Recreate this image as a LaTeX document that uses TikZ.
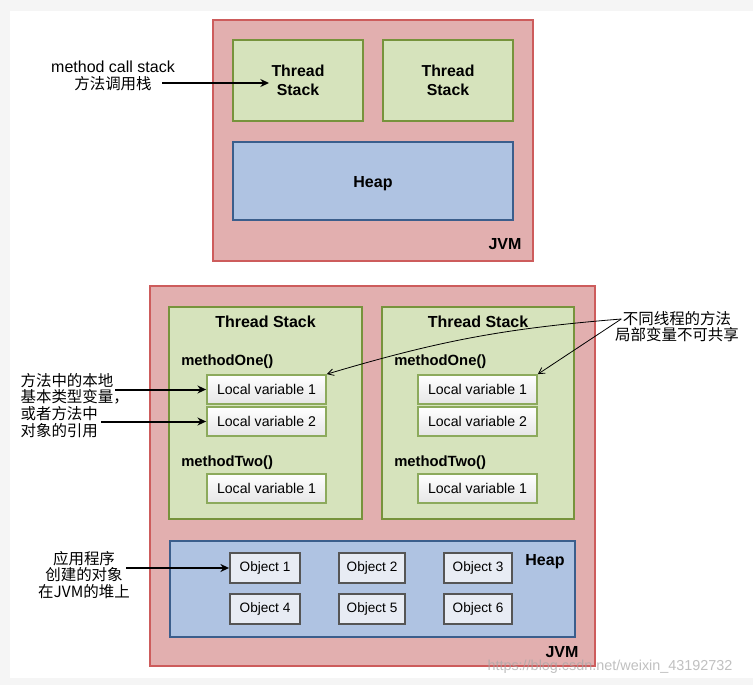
\documentclass[tikz,border=0pt]{standalone}
\usepackage{fontspec}
\setmainfont{Liberation Sans}
\newfontfamily\cjk{Noto Sans CJK SC}
\usetikzlibrary{arrows.meta}
\definecolor{jvmfill}{HTML}{E2AFAF}
\definecolor{jvmdraw}{HTML}{CD5C5C}
\definecolor{tsfill}{HTML}{D6E3BC}
\definecolor{tsdraw}{HTML}{77933C}
\definecolor{hpfill}{HTML}{AFC3E2}
\definecolor{hpdraw}{HTML}{3B5E8C}
\definecolor{lvdraw}{HTML}{8CAA5C}
\definecolor{obfill}{HTML}{E8ECF4}
\definecolor{obdraw}{HTML}{555555}
\newcommand\bx[7]{%
  \pgfmathsetmacro\bw{(#5-#3)*0.75}\pgfmathsetmacro\bh{(#6-#4)*0.75}%
  \node[#1, minimum width=\bw pt, minimum height=\bh pt] (#2) at ({(#3+#5)/2},{(#4+#6)/2}) {#7};}
\tikzset{
  base/.style={rectangle, inner sep=0pt, align=center},
  jvmbox/.style={base, fill=jvmfill, draw=jvmdraw, line width=1.3pt},
  tsbox/.style={base, fill=tsfill, draw=tsdraw, line width=1.3pt, font=\fontsize{11.9pt}{14.3pt}\selectfont\bfseries},
  hpbox/.style={base, fill=hpfill, draw=hpdraw, line width=1.3pt, font=\fontsize{12.2pt}{14pt}\selectfont\bfseries},
  lvbox/.style={base, top color=white, bottom color=black!10, draw=lvdraw, line width=1.3pt, font=\fontsize{10.6pt}{12pt}\selectfont},
  obbox/.style={base, fill=obfill, draw=obdraw, line width=1.4pt, font=\fontsize{10.2pt}{12pt}\selectfont},
  title/.style={inner sep=0pt, font=\fontsize{12pt}{14pt}\selectfont\bfseries},
  meth/.style={inner sep=0pt, anchor=west, font=\fontsize{11.1pt}{13pt}\selectfont\bfseries},
  lbl/.style={inner sep=0pt, font=\fontsize{12pt}{14pt}\selectfont\bfseries},
  note/.style={inner sep=1pt, font=\fontsize{11.6pt}{13pt}\selectfont\cjk},
  bigarrow/.style={line width=1.5pt, -{Stealth[length=6.5pt, width=6pt]}},
  thinarrow/.style={line width=0.6pt, -{Straight Barb[length=4.5pt, width=5pt]}},
}
\begin{document}
\begin{tikzpicture}[x=0.75pt, y=-0.75pt]
\fill[black!4] (0,0) rectangle (753,685);
\fill[white] (10,11) rectangle (753,678);
\useasboundingbox (0,0) rectangle (753,685);

% ---------- top diagram ----------
\bx{jvmbox}{jvm1}{213}{20}{533}{261}{}
\bx{tsbox}{ts1}{233}{40}{363}{121}{Thread\\Stack}
\bx{tsbox}{ts2}{383}{40}{513}{121}{Thread\\Stack}
\bx{hpbox}{hp1}{233}{142}{513}{220}{}
\node[lbl] (hplbl1) at (373,184) {Heap};
\node[lbl] (jvmlbl1) at (505,244) {JVM};

\node[inner sep=0pt, font=\fontsize{12pt}{14pt}\selectfont] (mc1) at (113,67) {method call stack};
\node[note] (mc2) at (113,84) {方法调用栈};
\coordinate (p0) at (162,83);
\coordinate (p1) at (269,83);
\draw[bigarrow] (p0) -- (p1);

% ---------- bottom diagram ----------
\bx{jvmbox}{jvm2}{150}{286}{595}{666}{}
\bx{tsbox}{tsl}{169}{307}{362}{519}{}
\bx{tsbox}{tsr}{382}{307}{574}{519}{}
\node[title] (tsltitle) at (265.5,322) {Thread Stack};
\node[title] (tsrtitle) at (478,322) {Thread Stack};

\node[meth] (m1l) at (181,362) {methodOne()};
\node[meth] (m2l) at (181,463) {methodTwo()};
\node[meth] (m1r) at (394,362) {methodOne()};
\node[meth] (m2r) at (394,463) {methodTwo()};

\bx{lvbox}{lv1l}{207}{375}{326}{404}{Local variable 1}
\bx{lvbox}{lv2l}{207}{407}{326}{436}{Local variable 2}
\bx{lvbox}{lv3l}{207}{474}{326}{503}{Local variable 1}
\bx{lvbox}{lv1r}{418}{375}{537}{404}{Local variable 1}
\bx{lvbox}{lv2r}{418}{407}{537}{436}{Local variable 2}
\bx{lvbox}{lv3r}{418}{474}{537}{503}{Local variable 1}

\bx{hpbox}{hp2}{170}{541}{575}{637}{}
\node[lbl] (hplbl2) at (545,562) {Heap};
\bx{obbox}{ob1}{230}{553}{300}{583}{Object 1}
\bx{obbox}{ob2}{339}{553}{405}{583}{Object 2}
\bx{obbox}{ob3}{444}{553}{512}{583}{Object 3}
\bx{obbox}{ob4}{230}{594}{300}{624}{Object 4}
\bx{obbox}{ob5}{339}{594}{405}{624}{Object 5}
\bx{obbox}{ob6}{444}{594}{512}{624}{Object 6}
\node[lbl] (jvmlbl2) at (562,652) {JVM};

% left notes
\node[note, anchor=west] (a1) at (19,381) {方法中的本地};
\node[note, anchor=west] (a2) at (19,397) {基本类型变量，};
\node[note, anchor=west] (a3) at (19,414) {或者方法中};
\node[note, anchor=west] (a4) at (19,431) {对象的引用};
\draw[bigarrow] (a1.east |- lv1l.west) -- (lv1l.west);
\coordinate (a4s) at (101,421.5);
\draw[bigarrow] (a4s) -- (lv2l.west);

% right notes
\node[note] (r1) at (677,319) {不同线程的方法};
\node[note] (r2) at (677,335) {局部变量不可共享};
\draw[thinarrow] (r1.west) to[bend right=6] (lv1l.north east);
\draw[thinarrow] (r1.west) -- (lv1r.north east);

% heap notes
\node[note] (h1) at (84,559) {应用程序};
\node[note] (h2) at (84,575) {创建的对象};
\node[note] (h3) at (84,592) {在JVM的堆上};
\coordinate (hs) at (126,568);
\draw[bigarrow] (hs) -- (ob1.west);

% watermark
\node[inner sep=0pt, text=black!35, opacity=0.7, font=\fontsize{10.8pt}{12pt}\selectfont] (wm) at (610,667) {https://blog.csdn.net/weixin\_43192732};
\end{tikzpicture}
\end{document}
